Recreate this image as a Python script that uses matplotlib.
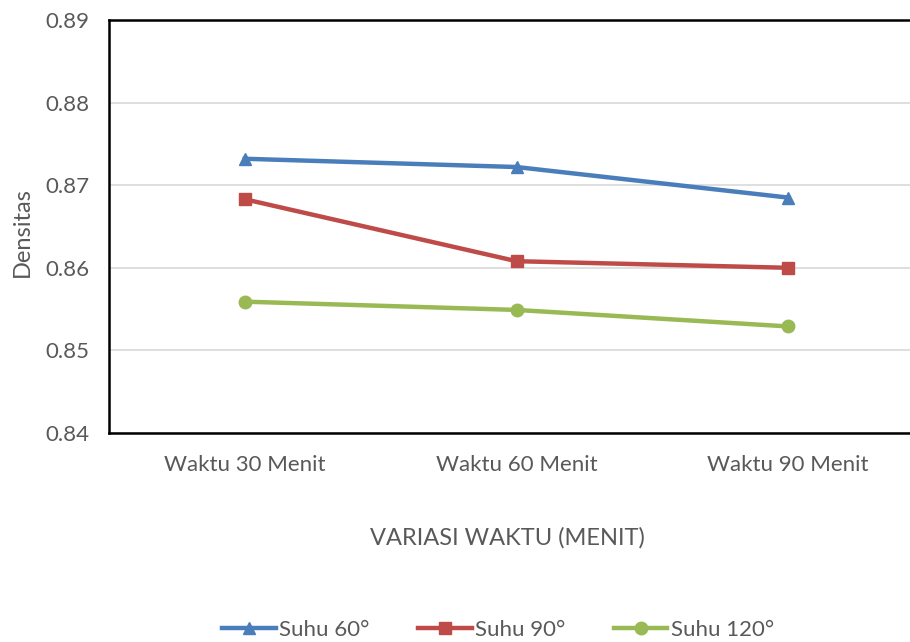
import matplotlib.pyplot as plt

plt.rcParams['font.family'] = ['Lato', 'DejaVu Sans']

kategori = ['Waktu 30 Menit', 'Waktu 60 Menit', 'Waktu 90 Menit']
suhu_60 = [0.8732, 0.8722, 0.8685]
suhu_90 = [0.8683, 0.8608, 0.8600]
suhu_120 = [0.8559, 0.8549, 0.8529]
yticks = [0.84, 0.85, 0.86, 0.87, 0.88, 0.89]

fig = plt.figure(figsize=(9.1, 6.42), dpi=100)
ax = fig.add_axes([109/910, 1-433/642, 815/910, 413/642])

x = [0.5, 1.5, 2.5]
ax.plot(x, suhu_60, color='#4A7EBB', lw=3.2, marker='^', ms=9, label='Suhu 60°')
ax.plot(x, suhu_90, color='#BE4B48', lw=3.2, marker='s', ms=8, label='Suhu 90°')
ax.plot(x, suhu_120, color='#98B954', lw=3.2, marker='o', ms=9, label='Suhu 120°')

ax.set_xlim(0, 3)
ax.set_ylim(0.84, 0.89)
ax.set_yticks(yticks)
ax.set_yticklabels(['%.2f' % v for v in yticks])
ax.set_xticks(x)
ax.set_xticklabels(kategori)
ax.grid(axis='y', color='#d9d9d9', lw=1.2)
ax.set_axisbelow(True)
ax.tick_params(length=0, labelsize=16, labelcolor='#595959')
ax.tick_params(axis='x', pad=16)
ax.tick_params(axis='y', pad=14)
for s in ['left', 'bottom', 'top']:
    ax.spines[s].set_linewidth(1.8)
    ax.spines[s].set_color('black')
ax.spines['right'].set_visible(False)

fig.text(22/910, 1-232/642, 'Densitas', rotation=90, ha='center', va='center', fontsize=17, color='#595959')
fig.text(507/910, 1-538/642, 'VARIASI WAKTU (MENIT)', ha='center', va='center', fontsize=17, color='#595959')

fig.legend(loc='center', bbox_to_anchor=(498/910, 1-630/642), ncol=3, frameon=False,
           fontsize=16, labelcolor='#595959', handlelength=2.4, columnspacing=2.2, handletextpad=0.15)

fig.savefig('out.png', dpi=100)
